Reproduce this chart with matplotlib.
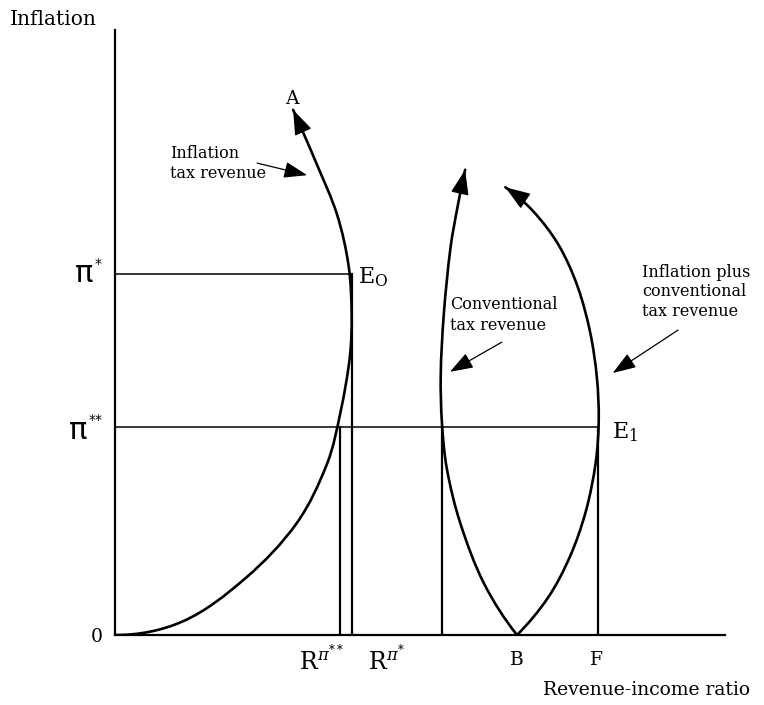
import matplotlib
matplotlib.use("Agg")
import math
import matplotlib.pyplot as plt
from matplotlib.path import Path
from matplotlib.patches import PathPatch

plt.rcParams['font.family'] = ['DejaVu Serif']
plt.rcParams['mathtext.fontset'] = 'dejavuserif'

# ---- data (schematic units) ----
pi_star = 5.97
pi_dstar = 3.44
R_dstar = 3.69
R_star = 3.89
conv_x = 5.36
B_x = 6.59
F_x = 7.92

# Inflation tax revenue curve (0 -> A)
infl_x = [0.0, 1.10, 2.14, 2.98, 3.48, 3.70, 3.85, 3.88, 3.83, 3.64, 3.30, 2.92]
infl_y = [0.0, 0.22, 0.94, 1.85, 2.84, 3.70, 4.60, 5.30, 6.10, 6.95, 7.80, 8.68]

# Conventional tax revenue curve (B -> up)
conv_cx = [6.59, 6.05, 5.66, 5.44, 5.36, 5.34, 5.39, 5.50, 5.62, 5.74]
conv_cy = [0.00, 0.85, 1.85, 2.75, 3.50, 4.30, 5.30, 6.40, 7.10, 7.69]

# Inflation plus conventional tax revenue curve (B -> up)
tot_x = [6.59, 7.10, 7.46, 7.72, 7.88, 7.93, 7.90, 7.79, 7.58, 7.27, 6.85, 6.40]
tot_y = [0.00, 0.62, 1.30, 2.05, 2.85, 3.55, 4.25, 5.00, 5.77, 6.45, 7.01, 7.40]

fig = plt.figure(figsize=(7.64, 7.05), dpi=100)
ax = fig.add_axes([115/764, 70/705, 610/764, 605/705])
ax.set_xlim(0, 10)
ax.set_ylim(0, 10)
for s in ['top', 'right']:
    ax.spines[s].set_visible(False)
for s in ['left', 'bottom']:
    ax.spines[s].set_linewidth(1.6)
ax.set_xticks([])
ax.set_yticks([])
ax.patch.set_alpha(0)


def _unit(v):
    d = math.hypot(v[0], v[1])
    return (v[0] / d, v[1] / d)


def smooth_curve(xs, ys, lw=1.9):
    pts = list(zip(xs, ys))
    n = len(pts)

    def dist(a, b):
        return math.hypot(a[0] - b[0], a[1] - b[1])

    tans = [None] * n
    for i in range(1, n - 1):
        a, b = pts[i - 1], pts[i + 1]
        tans[i] = _unit((b[0] - a[0], b[1] - a[1]))
    c0 = _unit((pts[1][0] - pts[0][0], pts[1][1] - pts[0][1]))
    tans[0] = _unit((2 * c0[0] - tans[1][0], 2 * c0[1] - tans[1][1]))
    cn = _unit((pts[-1][0] - pts[-2][0], pts[-1][1] - pts[-2][1]))
    tans[-1] = _unit((2 * cn[0] - tans[-2][0], 2 * cn[1] - tans[-2][1]))
    verts = [pts[0]]
    codes = [Path.MOVETO]
    for i in range(n - 1):
        p1, p2 = pts[i], pts[i + 1]
        h = dist(p1, p2) / 3
        c1 = (p1[0] + tans[i][0] * h, p1[1] + tans[i][1] * h)
        c2 = (p2[0] - tans[i + 1][0] * h, p2[1] - tans[i + 1][1] * h)
        verts += [c1, c2, p2]
        codes += [Path.CURVE4] * 3
    ax.add_patch(PathPatch(Path(verts, codes), fill=False, lw=lw, color='black', capstyle='round'))
    tip = pts[-1]
    t = tans[-1]
    back = (tip[0] - 0.01 * t[0], tip[1] - 0.01 * t[1])
    ax.annotate('', xy=tip, xytext=back,
                arrowprops=dict(arrowstyle='-|>,head_length=1.3,head_width=0.47',
                                mutation_scale=12, color='black', lw=1.0,
                                shrinkA=0, shrinkB=0))


smooth_curve(infl_x, infl_y)
smooth_curve(conv_cx, conv_cy)
smooth_curve(tot_x, tot_y)

# guide lines
ax.plot([0, R_star], [pi_star, pi_star], color='black', lw=1.1)
ax.plot([0, F_x], [pi_dstar, pi_dstar], color='black', lw=1.1)
for xv, top in [(R_dstar, pi_dstar), (R_star, pi_star), (conv_x, pi_dstar), (F_x, pi_dstar)]:
    ax.plot([xv, xv], [0, top], color='black', lw=1.6)

# labels
fs = 13.5
ax.text(-1.72, 10.17, 'Inflation', fontsize=14.5, ha='left', va='center', clip_on=False)
ax.text(-0.30, -0.03, '0', fontsize=fs, ha='center', va='center')
ax.text(-0.35, pi_star, 'π', fontsize=22, ha='right', va='center', fontfamily='DejaVu Sans')
ax.text(-0.33, pi_star + 0.17, '*', fontsize=10, ha='left', va='center', fontfamily='DejaVu Sans')
ax.text(-0.45, pi_dstar - 0.06, 'π', fontsize=22, ha='right', va='center', fontfamily='DejaVu Sans')
ax.text(-0.43, pi_dstar + 0.12, '**', fontsize=10, ha='left', va='center', fontfamily='DejaVu Sans')
ax.text(3.98, 5.92, r'$\mathrm{E}_{\mathrm{O}}$', fontsize=16, ha='left', va='center')
ax.text(8.15, 3.36, r'$\mathrm{E}_{1}$', fontsize=16, ha='left', va='center')
ax.text(2.90, 8.86, 'A', fontsize=fs, ha='center', va='center')
ax.text(3.39, -0.41, r'$\mathrm{R}^{\pi^{**}}$', fontsize=17, ha='center', va='center')
ax.text(4.45, -0.41, r'$\mathrm{R}^{\pi^{*}}$', fontsize=17, ha='center', va='center')
ax.text(B_x, -0.41, 'B', fontsize=fs, ha='center', va='center')
ax.text(F_x - 0.02, -0.41, 'F', fontsize=fs, ha='center', va='center')
ax.text(10.41, -0.91, 'Revenue-income ratio', fontsize=fs, ha='right', va='center')

afs = 11.5
ax.text(0.90, 7.79, 'Inflation\ntax revenue', fontsize=afs, ha='left', va='center', linespacing=1.25)
ax.text(5.49, 5.29, 'Conventional\ntax revenue', fontsize=afs, ha='left', va='center', linespacing=1.25)
ax.text(8.64, 5.67, 'Inflation plus\nconventional\ntax revenue', fontsize=afs, ha='left', va='center', linespacing=1.2)

for tail, tip in [((2.33, 7.80), (3.15, 7.60)), ((6.34, 4.84), (5.49, 4.35)), ((9.23, 5.04), (8.16, 4.33))]:
    ax.annotate('', xy=tip, xytext=tail,
                arrowprops=dict(arrowstyle='-|>,head_length=1.2,head_width=0.42',
                                mutation_scale=12, color='black', lw=0.9,
                                shrinkA=0, shrinkB=0))

fig.savefig('out.png', dpi=100)
